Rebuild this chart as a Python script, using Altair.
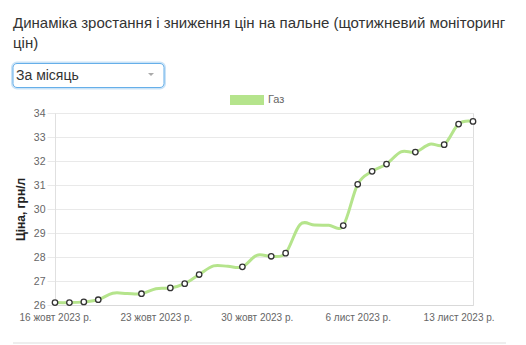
import altair as alt
import pandas as pd

# ---- data (daily prices; markers on some days) ----
dates = ["2023-10-16", "2023-10-17", "2023-10-18", "2023-10-19", "2023-10-20",
         "2023-10-21", "2023-10-22", "2023-10-23", "2023-10-24", "2023-10-25",
         "2023-10-26", "2023-10-27", "2023-10-28", "2023-10-29", "2023-10-30",
         "2023-10-31", "2023-11-01", "2023-11-02", "2023-11-03", "2023-11-04",
         "2023-11-05", "2023-11-06", "2023-11-07", "2023-11-08", "2023-11-09",
         "2023-11-10", "2023-11-11", "2023-11-12", "2023-11-13", "2023-11-14"]
prices = [26.10, 26.10, 26.13, 26.22, 26.49,
          26.48, 26.47, 26.68, 26.71, 26.89,
          27.27, 27.63, 27.61, 27.59, 28.07,
          28.03, 28.16, 29.35, 29.33, 29.32,
          29.31, 31.03, 31.57, 31.87, 32.38,
          32.37, 32.70, 32.68, 33.54, 33.65]
marker_shown = [1, 1, 1, 1, 0,
                0, 1, 0, 1, 1,
                1, 0, 0, 1, 0,
                1, 1, 0, 0, 0,
                1, 1, 1, 1, 0,
                1, 0, 1, 1, 1]
series_name = "Газ"
y_title = "Ціна, грн/л"
title_lines = ["Динаміка зростання і зниження цін на пальне (щотижневий моніторинг", "цін)"]
period_option = "За місяць"
x_tick_dates = ["2023-10-16", "2023-10-23", "2023-10-30", "2023-11-06", "2023-11-13"]
x_tick_labels = ["16 жовт 2023 р.", "23 жовт 2023 р.", "30 жовт 2023 р.", "6 лист 2023 р.", "13 лист 2023 р."]
x_domain = ["2023-10-16", "2023-11-14"]
y_ticks = [26, 27, 28, 29, 30, 31, 32, 33, 34]
y_domain = [26, 34]

FONT = "Liberation Sans"
LINE_COLOR = "#b5e48c"

def ms(d):
    return int(pd.Timestamp(d, tz="UTC").value // 10**6)

label_expr = ""
for d, lab in zip(x_tick_dates, x_tick_labels):
    label_expr += f"utcFormat(datum.value, '%Y-%m-%d') == '{d}' ? '{lab}' : "
label_expr += "''"

df = pd.DataFrame({"date": dates, "price": prices, "shown": marker_shown})

x_enc = alt.X("date:T",
              scale=alt.Scale(type="utc", domain=[ms(d) for d in x_domain], nice=False),
              axis=alt.Axis(values=[ms(d) for d in x_tick_dates], labelExpr=label_expr,
                            title=None, grid=False, ticks=False, domainColor="#d9d9d9",
                            labelColor="#666", labelFontSize=10, labelFont=FONT,
                            labelPadding=7, labelAngle=0, labelOverlap=False, labelFlush=False))
y_enc = alt.Y("price:Q",
              scale=alt.Scale(domain=y_domain, nice=False, zero=False),
              axis=alt.Axis(values=y_ticks, title=y_title, titleFont=FONT, titleFontSize=12,
                            titleFontWeight="bold", titleColor="#222", titlePadding=6,
                            grid=True, gridColor="#e9e9e9", tickColor="#e9e9e9", tickSize=8,
                            domainColor="#e0e0e0", labelColor="#666", labelFontSize=10.5,
                            labelFont=FONT, labelPadding=2, labelOverlap=False, labelFlush=False))

base = alt.Chart(df)
line = base.mark_line(interpolate="cardinal", color=LINE_COLOR, strokeWidth=3).encode(x=x_enc, y=y_enc)
points = base.mark_point(filled=False, fill="white", fillOpacity=1, stroke="#333", strokeWidth=1.3,
                         size=30, opacity=1).encode(x=x_enc, y=y_enc).transform_filter(
    alt.datum.shown == 1)

one = pd.DataFrame({"t": ["\n".join(title_lines)]})
title = alt.Chart(one).mark_text(align="left", baseline="alphabetic", lineBreak="\n", lineHeight=20,
                                 fontSize=15, font=FONT, color="#333").encode(
    text="t:N", x=alt.value(-42), y=alt.value(-85))

dd = pd.DataFrame({"t": [period_option]})
glow = alt.Chart(dd).mark_rect(fill="white", stroke="#66afe9", strokeOpacity=0.35, strokeWidth=4,
                               cornerRadius=4).encode(
    x=alt.value(-42), x2=alt.value(109), y=alt.value(-49.5), y2=alt.value(-25.5))
box = alt.Chart(dd).mark_rect(fill="white", stroke="#66afe9", strokeWidth=1, cornerRadius=4).encode(
    x=alt.value(-42), x2=alt.value(109), y=alt.value(-49.5), y2=alt.value(-25.5))
dd_text = alt.Chart(dd).mark_text(align="left", baseline="middle", fontSize=14, font=FONT,
                                  color="#333").encode(text="t:N", x=alt.value(-39), y=alt.value(-37.5))
caret = alt.Chart(dd).mark_point(shape="M-1,-0.5L1,-0.5L0,0.5Z", filled=True, color="#aaa",
                                 size=36, opacity=1).encode(x=alt.value(96), y=alt.value(-38.5))

lg = pd.DataFrame({"t": [series_name]})
lg_box = alt.Chart(lg).mark_rect(fill=LINE_COLOR).encode(
    x=alt.value(175), x2=alt.value(209), y=alt.value(-18), y2=alt.value(-8))
lg_text = alt.Chart(lg).mark_text(align="left", baseline="middle", fontSize=11, font=FONT,
                                  color="#666").encode(text="t:N", x=alt.value(213), y=alt.value(-13))

sep = alt.Chart(lg).mark_rule(color="#ddd", strokeWidth=1).encode(
    x=alt.value(-42), x2=alt.value(451), y=alt.value(230))

chart = alt.layer(line, points, title, glow, box, dd_text, caret, lg_box, lg_text, sep).properties(
    width=418, height=192,
    autosize=alt.AutoSizeParams(type="none"),
    padding={"left": 55, "top": 113, "right": 53, "bottom": 40},
).configure_view(stroke=None).configure(background="white")

chart.save("out.html", embed_options={"renderer": "svg", "actions": False})
